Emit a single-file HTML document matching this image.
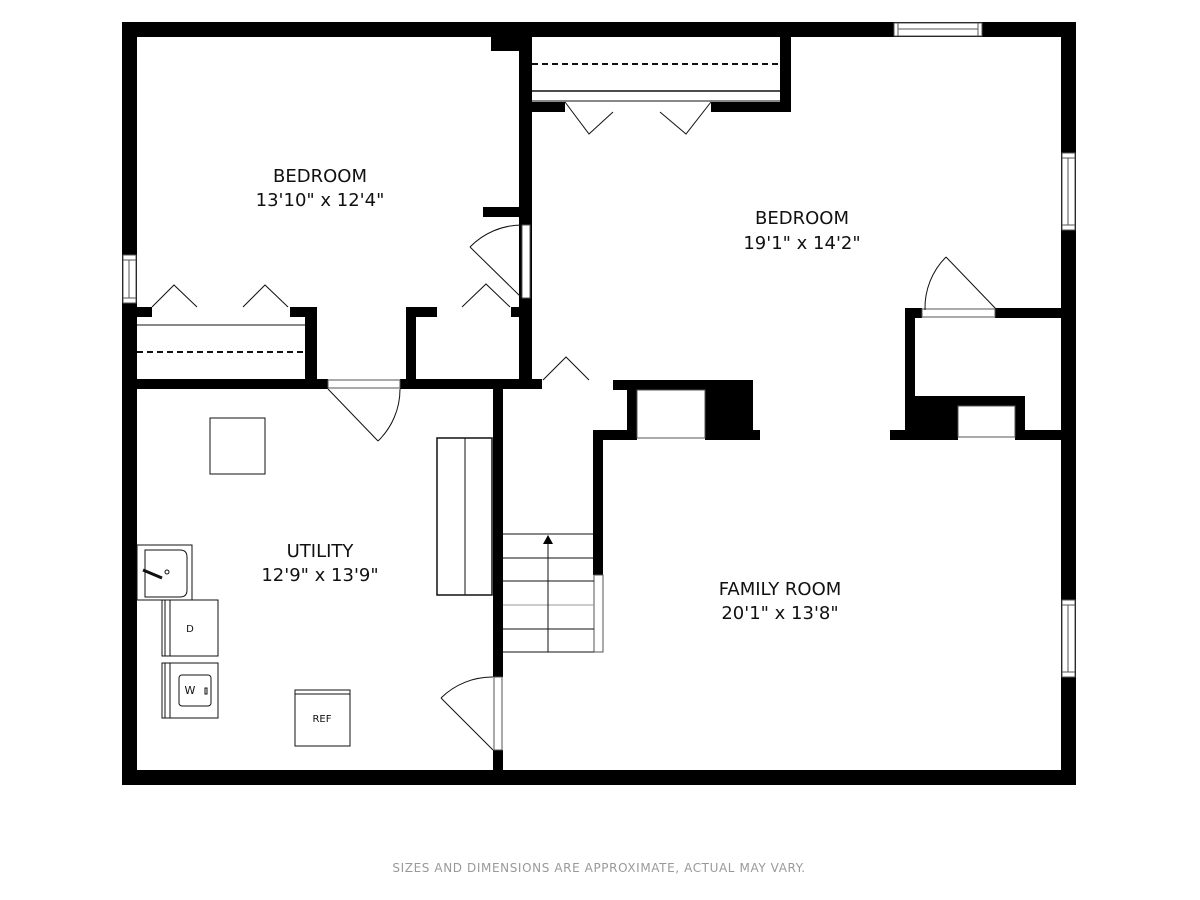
<!DOCTYPE html>
<html><head><meta charset="utf-8"><style>
html,body{margin:0;padding:0;background:#fff;}
svg{display:block;}
text{font-family:"DejaVu Sans","Liberation Sans",sans-serif;fill:#111;}
</style></head><body>
<svg width="1200" height="900" viewBox="0 0 1200 900" xmlns="http://www.w3.org/2000/svg">
<rect width="1200" height="900" fill="#fff"/>
<g fill="#000">
<rect x="122" y="22" width="954" height="15"/>
<rect x="122" y="770" width="954" height="15"/>
<rect x="122" y="22" width="15" height="763"/>
<rect x="1061" y="22" width="15" height="763"/>
<rect x="519" y="36" width="13" height="353"/>
<rect x="491" y="36" width="40" height="15"/>
<rect x="483" y="207" width="40" height="10"/>
<rect x="511" y="307" width="12" height="10"/>
<rect x="122" y="379" width="206" height="10"/>
<rect x="400" y="379" width="142" height="10"/>
<rect x="305" y="307" width="12" height="82"/>
<rect x="290" y="307" width="27" height="10"/>
<rect x="137" y="307" width="15" height="10"/>
<rect x="406" y="307" width="10" height="82"/>
<rect x="406" y="307" width="31" height="10"/>
<rect x="780" y="36" width="11" height="76"/>
<rect x="532" y="102" width="33" height="10"/>
<rect x="711" y="102" width="80" height="10"/>
<rect x="613" y="380" width="140" height="10"/>
<rect x="627" y="380" width="10" height="60"/>
<rect x="705" y="380" width="48" height="60"/>
<rect x="705" y="430" width="55" height="10"/>
<rect x="593" y="430" width="44" height="10"/>
<rect x="593" y="430" width="10" height="145"/>
<rect x="905" y="308" width="17" height="10"/>
<rect x="995" y="308" width="70" height="10"/>
<rect x="905" y="308" width="10" height="132"/>
<rect x="905" y="396" width="53" height="44"/>
<rect x="958" y="396" width="67" height="10"/>
<rect x="1015" y="396" width="10" height="44"/>
<rect x="890" y="430" width="68" height="10"/>
<rect x="1015" y="430" width="50" height="10"/>
<rect x="493" y="380" width="10" height="297"/>
<rect x="493" y="750" width="10" height="25"/>
</g>
<g fill="#fff" stroke="#555" stroke-width="1">
<rect x="894" y="23" width="88" height="13"/>
<line x1="898" y1="23" x2="898" y2="36"/><line x1="978" y1="23" x2="978" y2="36"/>
<line x1="898" y1="29" x2="978" y2="29"/>
<rect x="1062" y="153" width="13" height="77"/>
<line x1="1068" y1="158" x2="1068" y2="225"/><line x1="1062" y1="158" x2="1075" y2="158"/><line x1="1062" y1="225" x2="1075" y2="225"/>
<rect x="1062" y="600" width="13" height="77"/>
<line x1="1068" y1="605" x2="1068" y2="672"/><line x1="1062" y1="605" x2="1075" y2="605"/><line x1="1062" y1="672" x2="1075" y2="672"/>
<rect x="123" y="255" width="13" height="48"/>
<line x1="129" y1="260" x2="129" y2="298"/><line x1="123" y1="260" x2="136" y2="260"/><line x1="123" y1="298" x2="136" y2="298"/>
<rect x="522" y="225" width="8" height="73"/>
<rect x="328" y="380" width="72" height="8"/>
<rect x="494" y="677" width="8" height="73"/>
<rect x="922" y="309" width="73" height="8"/>
<rect x="958" y="406" width="57" height="31"/>
<rect x="637" y="390" width="68" height="48"/>
<rect x="594" y="575" width="9" height="77"/>
</g>
<g fill="none" stroke="#111" stroke-width="1">
<line x1="470" y1="247" x2="522" y2="298"/><path d="M470,247 A73,73 0 0 1 522,225"/>
<line x1="328" y1="389" x2="378" y2="441"/><path d="M378,441 A72,72 0 0 0 400,389"/>
<line x1="441" y1="698" x2="493" y2="750"/><path d="M441,698 A73,73 0 0 1 493,677"/>
<line x1="997" y1="310" x2="946" y2="257"/><path d="M946,257 A72,72 0 0 0 925,310"/>
<polyline points="152,307 174,285 197,307"/>
<polyline points="243,307 265,285 288,307"/>
<polyline points="462,307 486,284 510,307"/>
<polyline points="543,380 566,357 589,380"/>
<polyline points="565,102 589,134 613,112"/>
<polyline points="660,112 686,134 711,102"/>
<line x1="137" y1="325" x2="305" y2="325"/>
<line x1="137" y1="352" x2="305" y2="352" stroke-dasharray="6,4" stroke-width="2"/>
<line x1="532" y1="64" x2="780" y2="64" stroke-dasharray="6,4" stroke-width="2"/>
<line x1="532" y1="91" x2="780" y2="91" stroke-width="1.5"/>
<line x1="532" y1="101" x2="780" y2="101"/>
<rect x="210" y="418" width="55" height="56"/>
<rect x="437" y="438" width="55" height="157" stroke-width="1.5"/>
<line x1="465" y1="438" x2="465" y2="595"/>
<rect x="137" y="545" width="55" height="55"/>
<path d="M145,550 H180 Q187,550 187,557 V590 Q187,597 180,597 H145 Z"/>
<line x1="143" y1="570" x2="162" y2="578" stroke-width="3"/>
<circle cx="167" cy="572" r="2"/>
<rect x="162" y="600" width="56" height="56"/>
<line x1="170" y1="600" x2="170" y2="656"/><line x1="165" y1="600" x2="165" y2="656"/>
<rect x="162" y="663" width="56" height="55"/>
<line x1="170" y1="663" x2="170" y2="718"/><line x1="165" y1="663" x2="165" y2="718"/>
<rect x="179" y="675" width="32" height="31" rx="3"/>
<rect x="205" y="688" width="2" height="6"/>
<rect x="295" y="690" width="55" height="56"/>
<line x1="295" y1="694" x2="350" y2="694"/>
<line x1="503" y1="534" x2="594" y2="534"/>
<line x1="503" y1="558" x2="594" y2="558"/>
<line x1="503" y1="581" x2="594" y2="581"/>
<line x1="503" y1="605" x2="594" y2="605" stroke="#999"/>
<line x1="503" y1="629" x2="594" y2="629"/>
<line x1="503" y1="652" x2="594" y2="652"/>
<line x1="548" y1="540" x2="548" y2="652"/>
</g>
<polygon points="548,535 543,544 553,544" fill="#000"/>
<g font-size="10" text-anchor="middle">
<text x="190" y="632">D</text>
<text x="190" y="694" font-size="11">W</text>
<text x="322" y="722">REF</text>
</g>
<g font-size="18" text-anchor="middle">
<text x="320" y="182">BEDROOM</text>
<text x="320" y="206">13'10" x 12'4"</text>
<text x="802" y="224">BEDROOM</text>
<text x="802" y="249">19'1" x 14'2"</text>
<text x="320" y="557">UTILITY</text>
<text x="320" y="581">12'9" x 13'9"</text>
<text x="780" y="595">FAMILY ROOM</text>
<text x="780" y="619">20'1" x 13'8"</text>
</g>
<text x="599" y="872" font-size="12" letter-spacing="0.6" text-anchor="middle" style="fill:#999">SIZES AND DIMENSIONS ARE APPROXIMATE, ACTUAL MAY VARY.</text>
</svg>
</body></html>
